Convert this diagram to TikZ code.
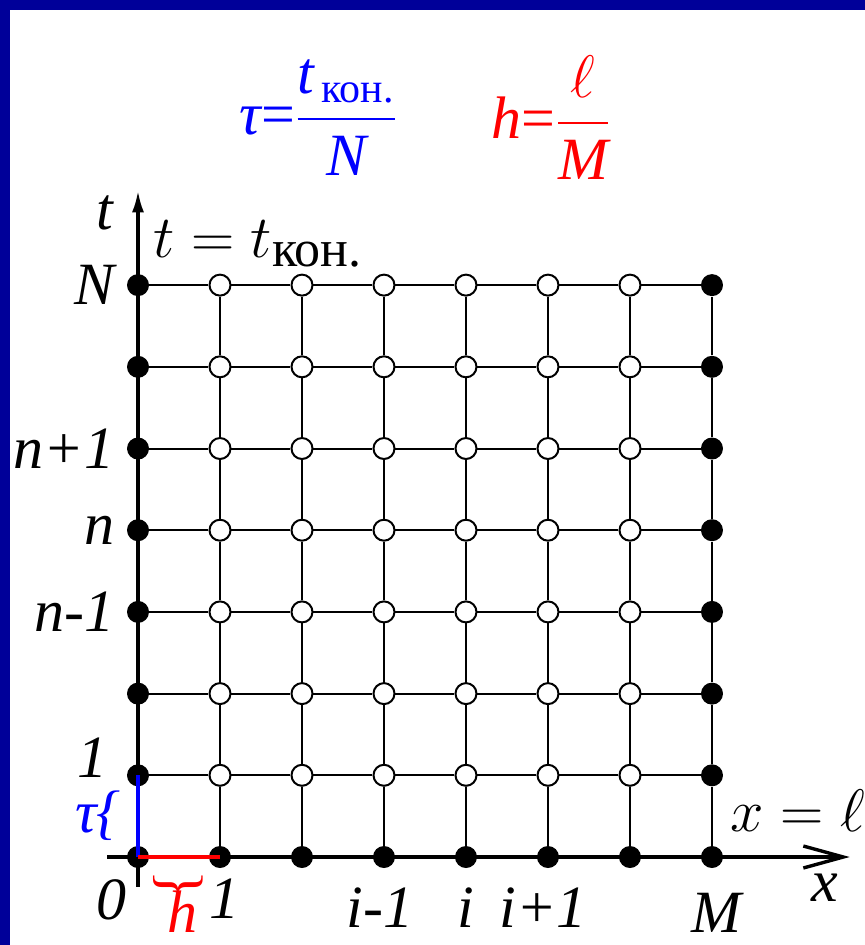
\RequirePackage{fix-cm}
\documentclass[tikz,border=0pt]{standalone}
\usepackage{amsmath}
\usepackage{fontspec}
\setmainfont{Liberation Serif}
\usetikzlibrary{arrows.meta,positioning}
\definecolor{framecol}{RGB}{0,0,153}
\newcommand{\bigfont}{\fontsize{30}{36}\selectfont}
\tikzset{
  bdot/.style={circle,fill=black,inner sep=0pt,minimum size=11pt},
  wdot/.style={circle,draw=black,fill=white,line width=1pt,inner sep=0pt,minimum size=10.5pt},
  gline/.style={line width=1pt},
  axis/.style={line width=1.7pt},
  lab/.style={inner sep=0pt,font=\bigfont\itshape},
}

\begin{document}
\begin{tikzpicture}[x=41pt,y=40.85pt,font=\bigfont]
    \useasboundingbox[fill=white] (-1.683,-1.077) rectangle (8.866,10.49);
    \fill[framecol] (-1.683,-1.077) rectangle (-1.561,10.49);
    \fill[framecol] (-1.683,10.367) rectangle (8.866,10.49);

    \node[blue] (tauf) at (2.2,9.05) {$\textit{τ}\text{=}\dfrac{\textit{t}_{\,\text{кон.}}}{\textit{N}}$};
    \node[red] (hf) at (5.04,9.05) {$\textit{h}\text{=}\dfrac{\ell}{\textit{M}}$};

    \coordinate (xfrom) at (-0.378,0);
    \coordinate (xto) at (8.68,0);
    \coordinate (yfrom) at (0,-0.367);
    \coordinate (yto) at (0,8.16);
    \draw[axis,-{Straight Barb[length=20pt,width=11pt]}] (xfrom) to (xto);
    \draw[axis,-{Latex[length=11pt,width=6pt]}] (yfrom) to (yto);

    \foreach \i in {0,...,7}
        \node[bdot] (p-\i-0) at (\i,0) {};
    \foreach \j in {1,...,7} {
        \node[bdot] (p-0-\j) at (0,\j) {};
        \node[bdot] (p-7-\j) at (7,\j) {};
    }
    \foreach \i in {1,...,6}
        \foreach \j in {1,...,7}
            \node[wdot] (p-\i-\j) at (\i,\j) {};

    \foreach \j in {1,...,7}
        \foreach \i [count=\k] in {0,...,6}
            \draw[gline] (p-\i-\j) to (p-\k-\j);
    \foreach \i in {1,...,7}
        \foreach \j [count=\k] in {0,...,6}
            \draw[gline] (p-\i-\j) to (p-\i-\k);

    \draw[blue,line width=2pt] (p-0-0.center) to (p-0-1.center);
    \draw[red,line width=2pt] (p-0-0.center) to (p-1-0.center);

    \node[lab] (lt) at (-0.40,7.89) {t};
    \node[inner sep=0pt,anchor=base west] (ltend) at (0.18,7.34) {$t=t_{\mbox{\fontsize{26}{30}\selectfont кон.}}$};
    \node[lab,left=6pt of p-0-7] (lN) {N};
    \node[lab,left=6pt of p-0-5] (lnp) {n+1};
    \node[lab,left=6pt of p-0-4] (ln) {n};
    \node[lab,left=6pt of p-0-3] (lnm) {n-1};
    \node[lab] (lone) at (-0.56,1.22) {1};
    \node[lab,blue] (ltau) at (-0.49,0.5) {τ\{};
    \node[lab,anchor=base] (lzero) at (-0.32,-0.77) {0};
    \node[red,rotate=-90,inner sep=0pt] (hbrace) at (0.49,-0.34) {\}};
    \node[lab,red] (lh) at (0.54,-0.67) {h};
    \node[lab,anchor=base] (lxone) at (1.06,-0.75) {1};
    \node[lab,anchor=base] (lim) at (2.95,-0.86) {i-1};
    \node[lab,anchor=base] (li) at (4,-0.86) {i};
    \node[lab,anchor=base] (lip) at (4.94,-0.86) {i+1};
    \node[lab,anchor=base] (lM) at (7.05,-0.92) {M};
    \node[lab,anchor=base] (lx) at (8.38,-0.55) {x};
    \node[inner sep=0pt,anchor=base west] (lxend) at (7.22,0.31) {$x=\ell$};
\end{tikzpicture}
\end{document}
